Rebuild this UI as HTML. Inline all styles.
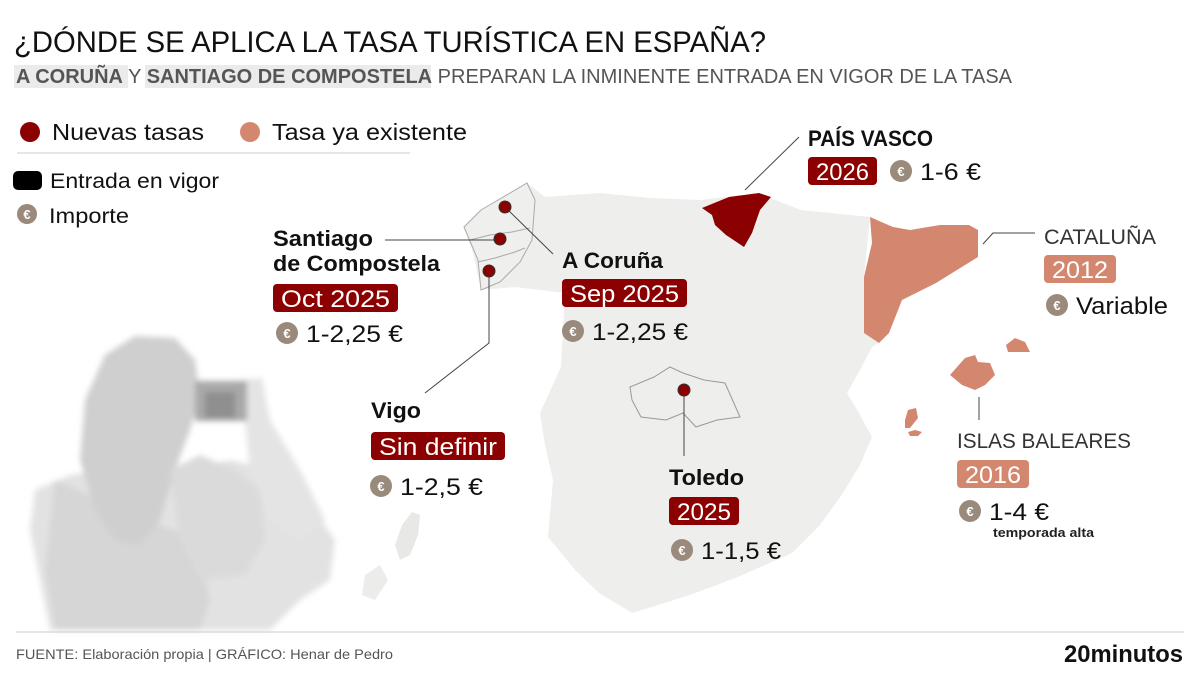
<!DOCTYPE html>
<html><head><meta charset="utf-8"><style>
html,body{margin:0;padding:0;background:#fff;}
svg{display:block;font-family:"Liberation Sans",sans-serif;}
</style></head><body>
<svg id="s" width="1200" height="675" viewBox="0 0 1200 675">
<defs><filter id="bl"><feGaussianBlur stdDeviation="3"/></filter></defs>
<!-- photo approximation -->
<g filter="url(#bl)">
  <polygon fill="#e2e2e2" points="35,490 70,475 110,470 150,480 185,470 230,460 275,470 310,505 335,540 330,580 300,600 270,630 50,630 40,580 30,530"/>
  <polygon fill="#d6d6d6" points="55,480 100,500 150,520 195,540 210,600 200,630 55,630 45,570"/>
  <polygon fill="#cfcfcf" points="85,400 105,355 135,336 175,338 195,360 200,395 190,430 175,470 160,520 140,545 115,540 95,510 80,460"/>
  <polygon fill="#dadada" points="170,470 200,455 235,470 260,490 265,540 245,575 200,580 180,540"/>
  <polygon fill="#e4e4e4" points="240,380 262,378 270,420 300,470 325,520 300,540 270,520 250,470 245,420"/>
  <rect x="195" y="381" width="52" height="40" fill="#a9a9a9"/>
  <rect x="205" y="392" width="30" height="26" fill="#8f8f8f"/>
</g>
<!-- map -->
<g>
  <polygon fill="#eeeeec" points="527,183 545,197 600,193 650,198 700,200 740,195 770,198 801,210 870,217 864,277 864,333 879,343 872,347 860,370 847,393 860,415 872,437 860,465 843,493 820,525 792,553 738,577 690,595 632,613 599,593 575,570 548,537 553,480 545,445 540,413 561,367 565,293 540,290 515,287 481,290 473,253 464,227 481,210"/>
  <polygon fill="#e8e8e6" points="402,525 412,512 420,515 418,535 410,555 400,560 395,545"/>
  <polygon fill="#ececea" points="365,575 380,565 388,580 375,600 362,595"/>
  <polygon fill="#efefed" stroke="#aaa" stroke-width="1" points="481,210 527,183 535,200 532,240 520,262 500,282 481,290 478,260 464,227"/>
  <polyline fill="none" stroke="#aaa" stroke-width="1" points="470,240 490,235 512,232 530,228"/>
  <polyline fill="none" stroke="#aaa" stroke-width="1" points="478,262 495,258 515,252 525,248"/>
  <polygon fill="none" stroke="#999" stroke-width="1" points="630,387 654,377 670,367 683,373 704,380 725,383 740,417 717,420 696,427 683,413 666,420 641,417 632,400"/>
  <polygon fill="#8b0000" points="702,208 729,197 759,193 771,197 760,210 752,233 744,247 726,235 715,225 712,215"/>
  <polygon fill="#d4876f" points="870,217 893,227 910,230 940,225 969,225 978,230 978,257 936,283 902,300 889,333 879,343 864,333 864,277 872,243"/>
  <polygon fill="#d4876f" points="950,375 965,358 975,355 978,362 990,363 995,375 985,385 975,390 962,385"/>
  <polygon fill="#d4876f" points="1006,345 1015,338 1025,342 1030,352 1020,352 1008,352"/>
  <polygon fill="#d4876f" points="905,420 908,410 916,408 918,418 910,428 905,428"/>
  <polygon fill="#d4876f" points="908,432 915,430 922,432 918,436 910,436"/>
</g>
<g id="marks"></g>
<!-- header -->
<text x="14" y="52" font-size="30" fill="#111" textLength="752" lengthAdjust="spacingAndGlyphs">¿DÓNDE SE APLICA LA TASA TURÍSTICA EN ESPAÑA?</text>
<rect x="14" y="65" width="114" height="23" fill="#ebebeb"/>
<rect x="145" y="65" width="286" height="23" fill="#ebebeb"/>
<text x="16" y="83" font-size="20" fill="#555" textLength="996" lengthAdjust="spacingAndGlyphs"><tspan font-weight="bold">A CORUÑA</tspan> Y <tspan font-weight="bold">SANTIAGO DE COMPOSTELA</tspan> PREPARAN LA INMINENTE ENTRADA EN VIGOR DE LA TASA</text>
<!-- legend -->
<g>
<circle cx="30" cy="132" r="10" fill="#8b0000"/>
<text x="52" y="140" font-size="23" fill="#111" textLength="152" lengthAdjust="spacingAndGlyphs">Nuevas tasas</text>
<circle cx="250" cy="132" r="10" fill="#d4876f"/>
<text x="272" y="140" font-size="23" fill="#111" textLength="195" lengthAdjust="spacingAndGlyphs">Tasa ya existente</text>
<line x1="17" y1="153" x2="410" y2="153" stroke="#ccc" stroke-width="1"/>
<rect x="13" y="171" width="29" height="19" rx="5" fill="#000"/>
<text x="50" y="188" font-size="21" fill="#111" textLength="169" lengthAdjust="spacingAndGlyphs">Entrada en vigor</text>
<circle cx="27" cy="214" r="10" fill="#9a8a7c"/><text x="27" y="219" font-size="13" font-weight="bold" fill="#fff" text-anchor="middle">€</text>
<text x="49" y="223" font-size="21" fill="#111" textLength="80" lengthAdjust="spacingAndGlyphs">Importe</text>
</g>
<!-- place labels -->
<text font-size="22" font-weight="bold" fill="#111"><tspan x="273" y="246" textLength="100" lengthAdjust="spacingAndGlyphs">Santiago</tspan><tspan x="273" y="271" textLength="167" lengthAdjust="spacingAndGlyphs">de Compostela</tspan></text>
<text x="562" y="268" font-size="22" font-weight="bold" fill="#111" textLength="101" lengthAdjust="spacingAndGlyphs">A Coruña</text>
<text x="371" y="418" font-size="22" font-weight="bold" fill="#111" textLength="50" lengthAdjust="spacingAndGlyphs">Vigo</text>
<text x="669" y="485" font-size="22" font-weight="bold" fill="#111" textLength="75" lengthAdjust="spacingAndGlyphs">Toledo</text>
<text x="808" y="146" font-size="22" font-weight="bold" fill="#111" textLength="125" lengthAdjust="spacingAndGlyphs">PAÍS VASCO</text>
<text x="1044" y="244" font-size="21" fill="#333" textLength="112" lengthAdjust="spacingAndGlyphs">CATALUÑA</text>
<text x="957" y="448" font-size="21" fill="#333" textLength="174" lengthAdjust="spacingAndGlyphs">ISLAS BALEARES</text>
<text x="993" y="537" font-size="13" font-weight="bold" fill="#222" textLength="101" lengthAdjust="spacingAndGlyphs">temporada alta</text>
<!-- callout lines -->
<g fill="none" stroke="#444" stroke-width="1">
<polyline points="385,240 500,240"/>
<polyline points="505,207 553,254"/>
<polyline points="489,271 489,343 425,393"/>
<polyline points="684,390 684,456"/>
<polyline points="745,190 799,137"/>
<polyline points="983,244 993,233 1035,233"/>
<polyline points="979,397 979,420"/>
</g>
<!-- footer -->
<line x1="16" y1="632" x2="1184" y2="632" stroke="#ccc" stroke-width="1"/>
<text x="16" y="659" font-size="14" fill="#555" textLength="377" lengthAdjust="spacingAndGlyphs">FUENTE: Elaboración propia  |  GRÁFICO: Henar de Pedro</text>
<text x="1064" y="662" font-size="24" font-weight="bold" fill="#111" textLength="119" lengthAdjust="spacingAndGlyphs">20minutos</text>
</svg>
<script>
const places = ['santiago','a-coruna','vigo','toledo','pais-vasco','cataluna','baleares'];
const dates = ['Oct 2025','Sep 2025','Sin definir','2025','2026','2012','2016'];
const prices = ['1-2,25 €','1-2,25 €','1-2,5 €','1-1,5 €','1-6 €','Variable','1-4 €'];
const isNew = [true,true,true,true,true,false,false];
const dotX = [500,505,489,684,null,null,null];
const dotY = [239,207,271,390,null,null,null];
const boxX = [273,562,371,669,808,1044,957];
const boxY = [284,279,432,497,157,255,460];
const boxW = [125,125,134,70,69,72,72];
const priceX = [287,573,381,682,901,1057,970];
const priceY = [333,331,486,550,171,305,511];
const priceW = [97,96,83,80,61,92,60];
const NS='http://www.w3.org/2000/svg';
const g=document.getElementById('marks');
function mk(t,a){const e=document.createElementNS(NS,t);for(const k in a)e.setAttribute(k,a[k]);return e;}
const root=document.getElementById('s');
places.forEach((p,i)=>{
  const col=isNew[i]?'#8b0000':'#d4876f';
  const b=mk('rect',{x:boxX[i],y:boxY[i],width:boxW[i],height:28,rx:4,fill:col});
  
  
  root.appendChild(b);
  const t=mk('text',{x:boxX[i]+boxW[i]/2,y:boxY[i]+23,'font-size':24,fill:'#fff','text-anchor':'middle',textLength:boxW[i]-16,lengthAdjust:'spacingAndGlyphs'});
  t.textContent=dates[i];
  
  
  root.appendChild(t);
  const c=mk('circle',{cx:priceX[i],cy:priceY[i],r:11,fill:'#9a8a7c'});
  
  
  root.appendChild(c);
  const ce=mk('text',{x:priceX[i],y:priceY[i]+5,'font-size':13,'font-weight':'bold',fill:'#fff','text-anchor':'middle'});
  ce.textContent='€';
  
  
  root.appendChild(ce);
  const pt=mk('text',{x:priceX[i]+19,y:priceY[i]+9,'font-size':24,fill:'#111',textLength:priceW[i],lengthAdjust:'spacingAndGlyphs'});
  pt.textContent=prices[i];
  
  
  root.appendChild(pt);
  if(dotX[i]!==null){
    const d=mk('circle',{cx:dotX[i],cy:dotY[i],r:6,fill:'#8b0000',stroke:'#333','stroke-width':1});
    
    
    g.appendChild(d);
  }
});
root.appendChild(g);
</script>
</body></html>
